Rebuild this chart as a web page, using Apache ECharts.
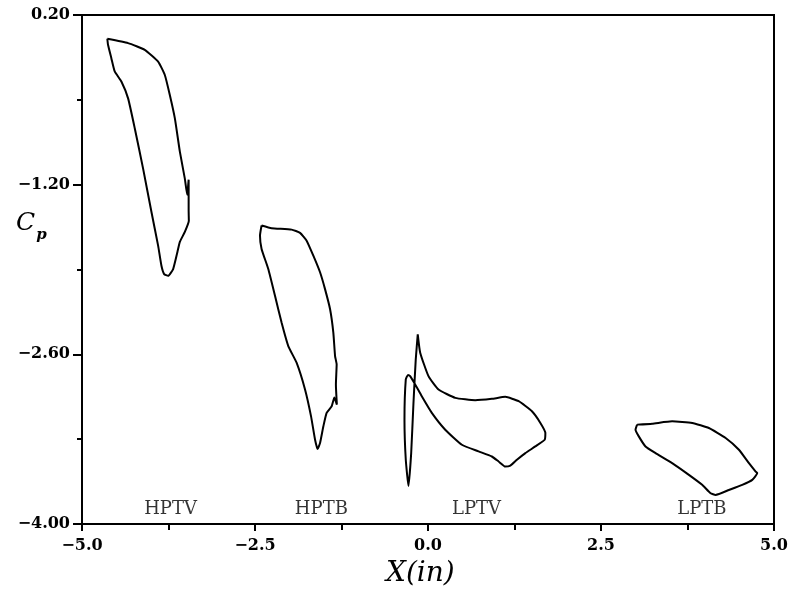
<!DOCTYPE html>
<html>
<head>
<meta charset="utf-8">
<script src="https://cdn.jsdelivr.net/npm/echarts@6/dist/echarts.min.js"></script>
<style>html,body{margin:0;padding:0;background:#fff;}#c{width:794px;height:601px;}</style>
</head>
<body>
<div id="c"></div>
<script>
// ---- data ----
const xTicks = [-5.0, -2.5, 0.0, 2.5, 5.0];
const xMinorTicks = [-3.75, -1.25, 1.25, 3.75];
const yTicks = [-4.00, -2.60, -1.20, 0.20];
const yMinorTicks = [-3.3, -1.9, -0.5];

const hptvX = [-4.634,-4.334,-4.093,-3.900,-3.803,-3.731,-3.658,-3.586,-3.514,-3.480,-3.459,-3.459,-3.456,-3.514,-3.586,-3.621,-3.683,-3.755,-3.813,-3.852,-3.900,-3.997,-4.117,-4.237,-4.334,-4.431,-4.527,-4.576,-4.624,-4.634];
const hptvY = [0.004,-0.032,-0.087,-0.184,-0.295,-0.460,-0.653,-0.927,-1.150,-1.283,-1.159,-1.416,-1.498,-1.590,-1.672,-1.755,-1.896,-1.952,-1.938,-1.869,-1.703,-1.424,-1.068,-0.736,-0.488,-0.349,-0.266,-0.156,-0.046,0.004];

const hptbX = [-2.405,-2.260,-1.971,-1.849,-1.754,-1.657,-1.560,-1.488,-1.415,-1.368,-1.343,-1.320,-1.331,-1.317,-1.353,-1.392,-1.465,-1.512,-1.560,-1.595,-1.632,-1.690,-1.777,-1.899,-2.019,-2.116,-2.211,-2.308,-2.405,-2.428,-2.405];
const hptbY = [-1.537,-1.559,-1.571,-1.598,-1.662,-1.786,-1.923,-2.062,-2.228,-2.421,-2.614,-2.683,-2.849,-3.015,-2.957,-3.029,-3.083,-3.194,-3.332,-3.382,-3.305,-3.112,-2.890,-2.669,-2.532,-2.338,-2.117,-1.896,-1.730,-1.620,-1.537];

const lptvX = [-0.148,-0.113,0.007,0.152,0.394,0.683,0.923,1.117,1.310,1.502,1.624,1.696,1.686,1.551,1.407,1.285,1.190,1.117,1.020,0.923,0.731,0.489,0.249,0.055,-0.090,-0.185,-0.258,-0.289,-0.321,-0.340,-0.321,-0.282,-0.243,-0.210,-0.177,-0.148];
const lptvY = [-2.435,-2.586,-2.780,-2.890,-2.959,-2.979,-2.967,-2.951,-2.987,-3.070,-3.166,-3.249,-3.305,-3.360,-3.415,-3.470,-3.518,-3.526,-3.484,-3.443,-3.401,-3.346,-3.222,-3.083,-2.946,-2.849,-2.780,-2.770,-2.807,-3.139,-3.470,-3.686,-3.415,-3.001,-2.642,-2.435];

const lptbX = [3.022,3.239,3.528,3.818,4.059,4.301,4.493,4.638,4.735,4.758,4.686,4.541,4.349,4.156,4.084,3.962,3.770,3.528,3.288,3.143,3.046,2.999,3.022];
const lptbY = [-3.180,-3.172,-3.153,-3.166,-3.208,-3.290,-3.387,-3.498,-3.567,-3.580,-3.636,-3.677,-3.719,-3.760,-3.746,-3.677,-3.595,-3.498,-3.415,-3.360,-3.277,-3.222,-3.180];

const labelNames = ['HPTV', 'HPTB', 'LPTV', 'LPTB'];
const labelX = [-3.720, -1.541, 0.702, 3.958];
const labelY = [-3.876, -3.876, -3.876, -3.876];

// ---- build ----
const zip = (xs, ys) => xs.map((x, i) => [x, ys[i]]);
const loops = [zip(hptvX, hptvY), zip(hptbX, hptbY), zip(lptvX, lptvY), zip(lptbX, lptbY)];
const fmt = (v, d) => { const s = Number(v).toFixed(d); return s.replace('-', '\u2212'); };
const tickFont = { fontFamily: 'DejaVu Serif', fontWeight: 'bold', fontSize: 16, color: '#000' };

const chart = echarts.init(document.getElementById('c'), null, { renderer: 'canvas' });
const lineSeries = loops.map((d) => ({
  type: 'line', data: d, showSymbol: false, symbol: 'none', smooth: 0.15,
  lineStyle: { color: '#000', width: 2 }, animation: false, silent: true,
  xAxisIndex: 0, yAxisIndex: 0
}));
const labelSeries = {
  type: 'scatter', symbolSize: 0, xAxisIndex: 0, yAxisIndex: 0, animation: false, silent: true,
  data: labelNames.map((n, i) => ({ name: n, value: [labelX[i], labelY[i]] })),
  label: { show: true, position: 'inside', formatter: (p) => p.name,
    fontFamily: 'DejaVu Serif', fontSize: 18, color: '#000' }
};

chart.setOption({
  animation: false,
  backgroundColor: '#fff',
  grid: { left: 82, right: 20, top: 15, bottom: 77, show: true, borderColor: '#000', borderWidth: 2, backgroundColor: 'transparent' },
  xAxis: [
    { type: 'value', min: -5, max: 5, gridIndex: 0, position: 'bottom',
      axisLine: { show: true, onZero: false, lineStyle: { color: '#000', width: 2 } },
      axisTick: { show: true, customValues: xTicks, length: 7, inside: false, lineStyle: { color: '#000', width: 2 } },
      axisLabel: { show: true, customValues: xTicks, margin: 14, formatter: (v) => fmt(v, 1), ...tickFont },
      splitLine: { show: false } },
    { type: 'value', min: -5, max: 5, gridIndex: 0, position: 'bottom',
      axisLine: { show: false, onZero: false },
      axisTick: { show: true, customValues: xMinorTicks, length: 6, lineStyle: { color: '#000', width: 2 } },
      axisLabel: { show: false }, splitLine: { show: false } }
  ],
  yAxis: [
    { type: 'value', min: -4, max: 0.2, gridIndex: 0, position: 'left',
      axisLine: { show: true, onZero: false, lineStyle: { color: '#000', width: 2 } },
      axisTick: { show: true, customValues: yTicks, length: 9, lineStyle: { color: '#000', width: 2 } },
      axisLabel: { show: true, customValues: yTicks, margin: 12, formatter: (v) => fmt(v, 2), ...tickFont },
      splitLine: { show: false } },
    { type: 'value', min: -4, max: 0.2, gridIndex: 0, position: 'left',
      axisLine: { show: false, onZero: false },
      axisTick: { show: true, customValues: yMinorTicks, length: 5, lineStyle: { color: '#000', width: 2 } },
      axisLabel: { show: false }, splitLine: { show: false } }
  ],
  graphic: [
    { type: 'text', left: 16, top: 211, silent: true,
      style: { text: '{c|C}{p|p}', rich: {
        c: { fontFamily: 'DejaVu Serif', fontStyle: 'italic', fontSize: 25, fill: '#000', verticalAlign: 'bottom' },
        p: { fontFamily: 'DejaVu Serif', fontStyle: 'italic', fontWeight: 'bold', fontSize: 15, fill: '#000', verticalAlign: 'bottom', padding: [0,0,-7,1] }
      } } },
    { type: 'text', left: 386, top: 560, silent: true,
      style: { text: 'X(in)', fontFamily: 'DejaVu Serif', fontStyle: 'italic', fontSize: 28, fill: '#000' } }
  ],
  series: [...lineSeries, labelSeries]
});
</script>
</body>
</html>
